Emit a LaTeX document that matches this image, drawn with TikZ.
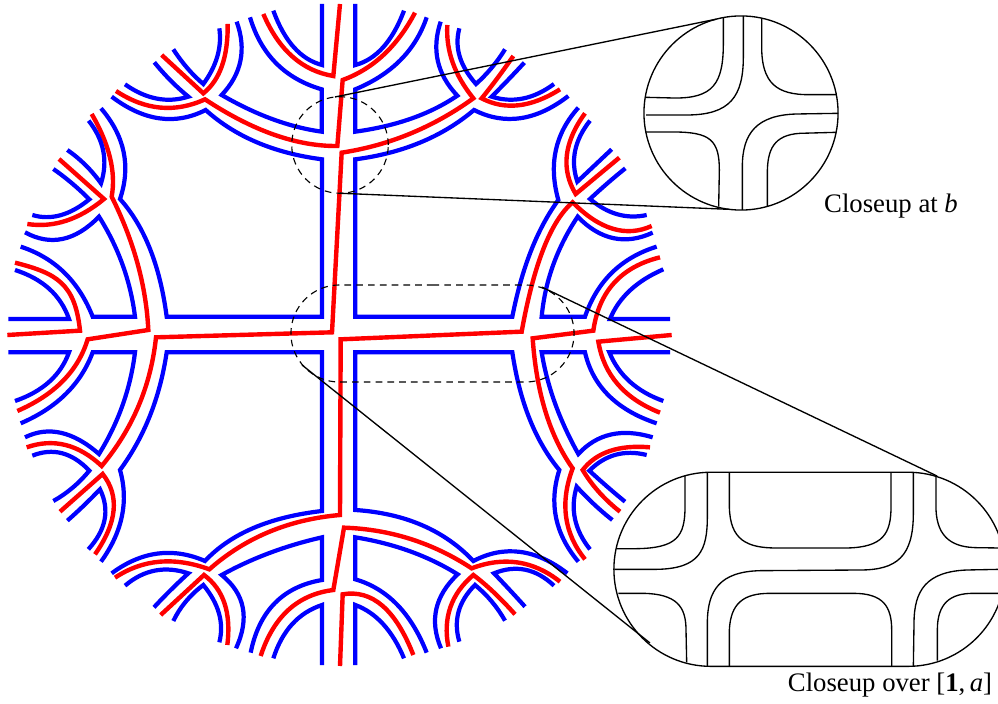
\documentclass[tikz,border=0pt]{standalone}
\usepackage{fontspec}
\setmainfont{Liberation Serif}
\usetikzlibrary{shapes.misc,calc}
\tikzset{
  via/.style={to path={.. controls ($(\tikztostart)!0.6667!(#1)$) and ($(\tikztotarget)!0.6667!(#1)$) .. (\tikztotarget)}},
  bluestrand/.style={draw=blue,line width=1.2pt},
  redstrand/.style={draw=red,line width=1.25pt},
  thinline/.style={draw=black,line width=0.38pt},
  dashdisc/.style={circle,draw=black,line width=0.32pt,dash pattern=on 1.9pt off 1.45pt,
                   minimum size=0.965cm,inner sep=0pt,outer sep=0pt},
  dashpill/.style={rounded rectangle,draw=black,line width=0.32pt,dash pattern=on 1.9pt off 1.45pt,
                   minimum width=2.83cm,minimum height=0.97cm,inner sep=0pt,outer sep=0pt},
  zoomdisc/.style={circle,draw=black,line width=0.38pt,
                   minimum size=1.94cm,inner sep=0pt,outer sep=0pt},
  zoompill/.style={rounded rectangle,draw=black,line width=0.38pt,
                   minimum width=3.91cm,minimum height=1.94cm,inner sep=0pt,outer sep=0pt},
  closeup/.style={font=\fontsize{7.6}{9}\selectfont,inner sep=0pt}
}
\begin{document}
\begin{tikzpicture}[x=0.01cm,y=-0.01cm]
  \useasboundingbox (0,0) rectangle (998,704);
  \clip (0,0) rectangle (998,704);

  % upper left
  \begin{scope}[scale=0.33333]
    \draw[bluestrand] (966,12) -- (966,195) to[via={870,170}] (820,32);
    \draw[redstrand] (1020,12) -- (1000,228) to[via={860,205}] (790,42);
    \draw[bluestrand] (750,52) to[via={800,220}] (965,268) -- (965,395) to[via={820,375}] (665,285) to[via={755,190}] (710,65);
    \draw[redstrand] (683,72) to[via={685,220}] (610,280) -- (485,165);
    \draw[bluestrand] (658,85) to[via={670,170}] (610,252) to[via={560,210}] (520,148);
    \draw[bluestrand] (375,253) to[via={470,320}] (565,290) to[via={510,245}] (463,187);
    \draw[redstrand] (348,273) to[via={480,360}] (615,298) to[via={830,440}] (1012,438) -- (1028,240) to[via={1165,190}] (1245,38);
    \draw[redstrand] (275,342) to[via={355,480}] (335,590) to[via={435,790}] (445,990) -- (263,1018) to[via={220,1160}] (52,1233);
    \draw[redstrand] (177,477) -- (312,597) to[via={200,690}] (82,672);
    \draw[bluestrand] (202,450) to[via={260,490}] (303,550) to[via={335,450}] (266,362);
    \draw[bluestrand] (160,507) to[via={215,545}] (268,598) to[via={180,670}] (97,645);
    \draw[bluestrand] (303,325) to[via={410,450}] (360,597) to[via={470,720}] (500,950) -- (966,950) -- (966,478) to[via={750,450}] (617,330) to[via={480,400}] (335,290);
    \draw[bluestrand] (75,697) to[via={190,760}] (297,650) to[via={385,790}] (405,950) -- (278,950) to[via={215,790}] (62,740);
    \draw[bluestrand] (25,957) -- (207,957) to[via={170,850}] (45,810);
    \draw[redstrand] (22,1005) -- (240,992) .. controls (225,850) and (170,820) .. (45,788);
  \end{scope}

  % upper right
  \begin{scope}[shift={(330,0)},scale=0.33333]
    \draw[bluestrand] (76,12) -- (76,195) to[via={170,170}] (222,32);
    \draw[bluestrand] (290,52) to[via={240,200}] (76,268) -- (76,395) to[via={260,370}] (382,287) to[via={290,190}] (332,65);
    \draw[redstrand] (352,75) to[via={345,190}] (430,295) to[via={250,425}] (35,458) -- (6,997) -- (-522,1012) to[via={-545,1230}] (-685,1398) to[via={-790,1300}] (-910,1342);
    \draw[redstrand] (550,168) to[via={500,240}] (455,295) to[via={560,350}] (690,268);
    \draw[bluestrand] (525,148) to[via={490,205}] (438,252) to[via={365,170}] (388,85);
    \draw[bluestrand] (583,188) to[via={535,240}] (485,290) to[via={580,320}] (672,252);
    \draw[bluestrand] (715,288) to[via={570,400}] (432,330) to[via={290,450}] (76,478) -- (76,950) -- (547,950) to[via={590,730}] (685,600) to[via={640,440}] (745,323);
    \draw[redstrand] (765,340) to[via={670,470}] (737,582) -- (868,473);
    \draw[bluestrand] (780,362) to[via={710,450}] (742,545) -- (845,448);
    \draw[redstrand] (965,678) to[via={850,730}] (728,607) to[via={630,690}] (575,995) -- (32,1018) -- (30,1545) to[via={-200,1565}] (-362,1708) to[via={-520,1650}] (-645,1733);
    \draw[bluestrand] (886,505) to[via={830,550}] (780,597) to[via={860,665}] (950,645);
    \draw[bluestrand] (968,698) to[via={845,755}] (743,650) to[via={650,790}] (635,950) -- (765,950) to[via={820,790}] (980,740);
    \draw[bluestrand] (1020,957) -- (840,957) to[via={880,860}] (1000,808);
  \end{scope}

  % lower left
  \begin{scope}[shift={(0,330)},scale=0.33333]
    \draw[bluestrand] (25,67) -- (207,67) to[via={170,170}] (45,213);
    \draw[bluestrand] (62,280) to[via={225,210}] (278,67) -- (405,67) to[via={385,230}] (297,372) to[via={180,270}] (75,322);
    \draw[bluestrand] (303,695) to[via={400,560}] (360,420) to[via={470,270}] (500,67) -- (966,67) -- (966,543) to[via={730,570}] (615,693) to[via={470,630}] (335,730);
    \draw[redstrand] (180,545) -- (308,432) to[via={385,530}] (285,673);
    \draw[bluestrand] (160,513) to[via={220,480}] (268,422) to[via={190,340}] (97,377);
    \draw[bluestrand] (202,572) to[via={250,530}] (300,478) to[via={345,570}] (265,658);
    \draw[bluestrand] (375,767) to[via={460,695}] (565,730) to[via={510,780}] (462,832);
    \draw[redstrand] (482,855) -- (612,735) to[via={700,800}] (682,945);
    \draw[bluestrand] (520,873) to[via={550,810}] (610,765) to[via={680,850}] (658,937);
    \draw[bluestrand] (708,955) to[via={770,820}] (665,735) to[via={800,660}] (966,622) -- (966,750) to[via={790,780}] (752,968);
    \draw[redstrand] (782,978) to[via={840,800}] (1000,780) -- (1032,593) to[via={1240,600}] (1415,715) to[via={1560,660}] (1680,755);
    \draw[bluestrand] (820,985) to[via={860,860}] (966,825) -- (966,1005);
  \end{scope}

  % lower right
  \begin{scope}[shift={(330,330)},scale=0.33333]
    \draw[redstrand] (30,1008) -- (38,793) to[via={170,770}] (250,975);
    \draw[bluestrand] (76,1005) -- (76,825) to[via={170,860}] (222,985);
    \draw[bluestrand] (290,968) to[via={220,790}] (76,748) -- (76,622) to[via={250,650}] (383,733) to[via={280,830}] (333,955);
    \draw[redstrand] (355,950) to[via={330,820}] (430,735) to[via={490,780}] (555,853);
    \draw[bluestrand] (388,935) to[via={360,840}] (435,765) to[via={490,810}] (525,872);
    \draw[bluestrand] (585,830) to[via={540,780}] (492,730) to[via={590,690}] (672,767);
    \draw[bluestrand] (712,730) to[via={570,620}] (430,693) to[via={300,555}] (76,540) -- (76,67) -- (547,67) to[via={580,290}] (688,420) to[via={640,570}] (745,695);
    \draw[redstrand] (765,688) to[via={670,570}] (728,415) to[via={625,270}] (608,25) -- (790,2) to[via={815,-175}] (990,-218);
    \draw[redstrand] (1025,15) -- (805,35) to[via={830,185}] (990,248);
    \draw[redstrand] (870,545) to[via={800,490}] (758,420) to[via={820,340}] (960,352);
    \draw[bluestrand] (885,515) to[via={830,470}] (778,422) to[via={850,350}] (950,375);
    \draw[bluestrand] (847,570) to[via={790,525}] (740,470) to[via={710,570}] (780,658);
    \draw[bluestrand] (968,322) to[via={830,280}] (745,372) to[via={660,220}] (635,67) -- (765,67) to[via={800,220}] (980,280);
    \draw[bluestrand] (1020,67) -- (838,67) to[via={880,170}] (1000,213);
  \end{scope}

  \node[dashdisc] (bdisc) at (340,145) {};
  \node[dashpill] (adisc) at (432.5,333.5) {};
  \node[zoomdisc] (bzoom) at (741,113) {};
  \node[zoompill] (azoom) at (809.5,569.3) {};

  \draw[thinline] (bdisc.96) -- (bzoom.105);
  \draw[thinline] (bdisc.270) -- (bzoom.263);
  \coordinate (atop) at (541.7,287);
  \coordinate (abot) at (302,365);
  \coordinate (ztop) at (937,476);
  \coordinate (zbot) at (650,643);
  \draw[thinline] (atop) -- (ztop);
  \draw[thinline] (abot) -- (zbot);

  % closeup at b
  \begin{scope}[shift={(630,0)},scale=0.33333]
    \draw[thinline] (48,292) -- (130,294) .. controls (250,296) and (280,250) .. (280,130) -- (280,52);
    \draw[thinline] (48,345) -- (170,345) .. controls (300,345) and (340,290) .. (340,170) -- (340,48);
    \draw[thinline] (395,55) -- (395,140) .. controls (395,250) and (440,285) .. (540,284) -- (620,284);
    \draw[thinline] (625,340) -- (500,342) .. controls (380,345) and (337,400) .. (337,500) -- (337,630);
    \draw[thinline] (48,396) -- (130,396) .. controls (240,396) and (268,420) .. (268,510) -- (266,620);
    \draw[thinline] (618,397) -- (510,400) .. controls (430,405) and (412,450) .. (412,520) -- (412,618);
  \end{scope}

  % closeup over the edge
  \begin{scope}[shift={(600,450)},scale=0.33333]
    \draw[thinline] (50,296) -- (110,296) .. controls (230,294) and (255,260) .. (255,170) -- (255,78);
    \draw[thinline] (43,358) -- (170,358) .. controls (300,356) and (322,300) .. (322,200) -- (322,67);
    \draw[thinline] (388,67) -- (388,170) .. controls (390,270) and (440,294) .. (530,294) -- (740,294) .. controls (850,292) and (873,250) .. (873,170) -- (873,67);
    \draw[thinline] (940,67) -- (940,190) .. controls (940,320) and (890,360) .. (780,360) -- (480,362) .. controls (360,365) and (322,420) .. (322,520) -- (322,649);
    \draw[thinline] (1200,358) -- (1100,360) .. controls (980,365) and (942,420) .. (942,520) -- (940,649);
    \draw[thinline] (1008,80) -- (1008,180) .. controls (1012,265) and (1060,292) .. (1130,293) -- (1200,294);
    \draw[thinline] (388,649) -- (388,540) .. controls (392,460) and (430,430) .. (510,430) -- (760,430) .. controls (850,430) and (875,470) .. (875,540) -- (875,649);
    \draw[thinline] (55,430) -- (130,430) .. controls (230,432) and (258,470) .. (258,540) -- (260,637);
    \draw[thinline] (1012,632) -- (1012,540) .. controls (1012,460) and (1050,430) .. (1120,430) -- (1200,430);
  \end{scope}

  \node[closeup] (labelb) at (891,206) {Closeup at \textit{b}};
  \node[closeup] (labela) at (890,685) {Closeup over [\textbf{1},\,\textit{a}]};
\end{tikzpicture}
\end{document}
